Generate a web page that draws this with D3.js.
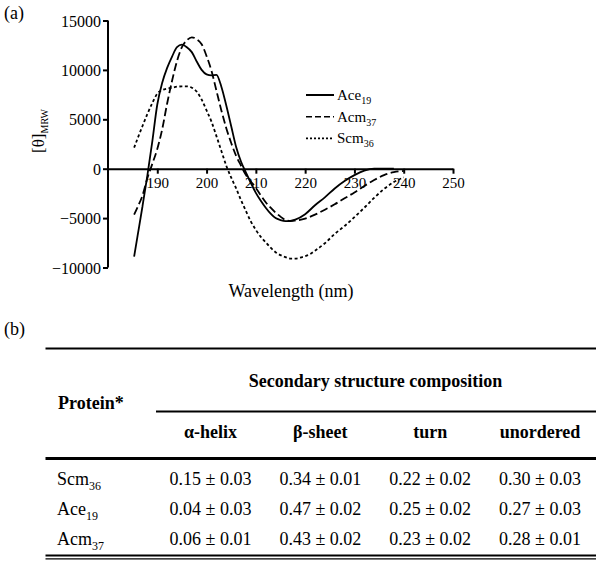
<!DOCTYPE html>
<html>
<head>
<meta charset="utf-8">
<script src="https://cdn.jsdelivr.net/npm/d3@7"></script>
<style>
body { margin: 0; background: #fff; }
svg text { font-family: "Liberation Serif", Tinos, "Times New Roman", Times, "DejaVu Serif", serif !important; fill: #000; }
</style>
</head>
<body>
<script>
var width = 600, height = 563;

// CD spectra, wavelength (nm) and mean residue ellipticity
var waveAce = [185.3, 186, 187, 188, 189, 190, 191, 192, 193, 194, 195, 196, 197, 198, 199, 200, 201, 202, 203, 204, 205, 206, 207, 208, 209, 210, 211, 212, 213, 214, 215, 216, 217, 218, 220, 222, 224, 226, 228, 230, 232, 234, 236, 238];
var ace19 = [-8900, -6800, -3800, -650, 2800, 6500, 8700, 10200, 11350, 12300, 12550, 12300, 11800, 10850, 10000, 9550, 9450, 9500, 8300, 6400, 4300, 2200, 700, -400, -1450, -2450, -3250, -3950, -4550, -5000, -5200, -5300, -5280, -5150, -4600, -3700, -2900, -2000, -1250, -650, -200, 0, 0, 0];

var waveAcm = [185.3, 186, 187, 188, 189, 190, 191, 192, 193, 194, 195, 196, 197, 198, 199, 200, 201, 202, 203, 204, 205, 206, 207, 208, 209, 210, 211, 212, 213, 214, 215, 216, 217, 218, 220, 222, 224, 226, 228, 230, 232, 234, 236, 238, 240];
var acm37 = [-4650, -3900, -2700, -950, 500, 2000, 4000, 6600, 8900, 10900, 12300, 13000, 13300, 13100, 12600, 11400, 9900, 7900, 5900, 4100, 2600, 1300, 300, -650, -1300, -1950, -2700, -3400, -3950, -4450, -4850, -5200, -5300, -5250, -5050, -4650, -4150, -3600, -3000, -2400, -1750, -1150, -650, -350, -220];

var waveScm = [185.3, 186, 187, 188, 189, 190, 191, 192, 193, 194, 195, 196, 197, 198, 199, 200, 201, 202, 203, 204, 205, 206, 207, 208, 209, 210, 211, 212, 213, 214, 215, 216, 217, 218, 219, 220, 221, 222, 224, 226, 228, 230, 232, 234, 236, 238, 240];
var scm36 = [2130, 3050, 4320, 5550, 6650, 7600, 7950, 8100, 8200, 8300, 8330, 8330, 8200, 7800, 7000, 5900, 4750, 3300, 1800, 300, -900, -2000, -3200, -4300, -5350, -6200, -6900, -7450, -8000, -8450, -8750, -8950, -9100, -9100, -9000, -8850, -8650, -8300, -7550, -6600, -5800, -4900, -3950, -2950, -2050, -1350, -880];

var xTicks = [190, 200, 210, 220, 230, 240, 250];
var yTicks = [-10000, -5000, 0, 5000, 10000, 15000];

// table (b)
var proteins = ["Scm", "Ace", "Acm"];
var proteinSubs = ["36", "19", "37"];
var structCols = ["\u03b1-helix", "\u03b2-sheet", "turn", "unordered"];
var alphaHelix = [[0.15, 0.03], [0.04, 0.03], [0.06, 0.01]];
var betaSheet = [[0.34, 0.01], [0.47, 0.02], [0.43, 0.02]];
var turn = [[0.22, 0.02], [0.25, 0.02], [0.23, 0.02]];
var unordered = [[0.30, 0.03], [0.27, 0.03], [0.28, 0.01]];

var svg = d3.select("body").append("svg")
  .attr("width", width)
  .attr("height", height);

var x = d3.scaleLinear().domain([180, 250]).range([108, 453]);
var y = d3.scaleLinear().domain([-10000, 15000]).range([267.5, 20.5]);

svg.append("text").attr("x", 4).attr("y", 19).style("font-size", "18px").text("(a)");

// y axis
var yAxis = svg.append("g")
  .attr("transform", "translate(" + x(180) + ",0)")
  .call(d3.axisLeft(y).tickValues(yTicks).tickSize(5).tickPadding(2).tickFormat(d3.format("d")));
// x axis through zero
var xAxis = svg.append("g")
  .attr("transform", "translate(0," + y(0) + ")")
  .call(d3.axisBottom(x).tickValues(xTicks).tickSize(5).tickPadding(4).tickSizeOuter(0).tickFormat(d3.format("d")));

[yAxis, xAxis].forEach(function(g) {
  g.attr("font-family", null);
  g.select(".domain").attr("stroke-width", 2);
  g.selectAll(".tick line").attr("stroke-width", 2);
  g.selectAll("text").attr("fill", "#000");
});
yAxis.select(".domain").attr("d", "M0," + y(-10000) + "V" + y(15000));
yAxis.selectAll("text").style("font-size", "16px").attr("dy", "0.35em");
xAxis.selectAll("text").style("font-size", "15px");

// y label
var yl = svg.append("text")
  .attr("transform", "translate(44,131) rotate(-90)")
  .attr("text-anchor", "middle")
  .style("font-size", "17px");
yl.append("tspan").text("[\u03b8]");
yl.append("tspan").attr("dy", 4).style("font-size", "10px").text("MRW");

svg.append("text")
  .attr("x", 291).attr("y", 297)
  .attr("text-anchor", "middle")
  .style("font-size", "18px")
  .text("Wavelength (nm)");

var line = d3.line()
  .x(function(d) { return x(d[0]); })
  .y(function(d) { return y(d[1]); })
  .curve(d3.curveMonotoneX);

var series = [
  { name: "Ace", sub: "19", wave: waveAce, vals: ace19, dash: null },
  { name: "Acm", sub: "37", wave: waveAcm, vals: acm37, dash: "8,3.5" },
  { name: "Scm", sub: "36", wave: waveScm, vals: scm36, dash: "3,2.5" }
];

series.forEach(function(s) {
  svg.append("path")
    .datum(d3.zip(s.wave, s.vals))
    .attr("fill", "none")
    .attr("stroke", "#000")
    .attr("stroke-width", 1.8)
    .attr("stroke-dasharray", s.dash)
    .attr("d", line);
});

// legend
var legend = svg.append("g");
series.forEach(function(s, i) {
  var ly = 95 + i * 21.7;
  legend.append("line")
    .attr("x1", 306).attr("x2", 334)
    .attr("y1", ly).attr("y2", ly)
    .attr("stroke", "#000")
    .attr("stroke-width", s.dash ? 1.6 : 2)
    .attr("stroke-dasharray", s.dash ? (i == 1 ? "6,3" : "2,2") : null);
  var t = legend.append("text").attr("x", 337).attr("y", ly + 5).style("font-size", "15px");
  t.append("tspan").text(s.name);
  t.append("tspan").attr("dy", 4).style("font-size", "10px").text(s.sub);
});

// ---- table (b) ----
svg.append("text").attr("x", 4).attr("y", 335).style("font-size", "18px").text("(b)");

function rule(x1, x2, yy, w) {
  svg.append("line")
    .attr("x1", x1).attr("x2", x2)
    .attr("y1", yy).attr("y2", yy)
    .attr("stroke", "#000")
    .attr("stroke-width", w);
}
rule(45.5, 596, 348.5, 2);
rule(156, 596, 411.5, 2);
rule(45.5, 596, 458.5, 3);
rule(45.5, 596, 555.5, 2);
rule(45.5, 596, 558.8, 1.2);

svg.append("text")
  .attr("x", 375.5).attr("y", 387)
  .attr("text-anchor", "middle")
  .style("font-size", "18px").style("font-weight", "bold")
  .text("Secondary structure composition");

svg.append("text")
  .attr("x", 58).attr("y", 409)
  .style("font-size", "18px").style("font-weight", "bold")
  .text("Protein*");

var colX = d3.scalePoint().domain(structCols).range([210.5, 540]);
var rowY = d3.scalePoint().domain(proteins).range([485, 544.5]);

svg.selectAll(".colhead").data(structCols).enter().append("text")
  .attr("x", function(d) { return colX(d); })
  .attr("y", 438)
  .attr("text-anchor", "middle")
  .style("font-size", "18px").style("font-weight", "bold")
  .text(function(d) { return d; });

var f = d3.format(".2f");
var colData = [alphaHelix, betaSheet, turn, unordered];

proteins.forEach(function(p, i) {
  var t = svg.append("text").attr("x", 57).attr("y", rowY(p)).style("font-size", "18px");
  t.append("tspan").text(p);
  t.append("tspan").attr("dy", 5).style("font-size", "12px").text(proteinSubs[i]);
  colData.forEach(function(col, j) {
    svg.append("text")
      .attr("x", colX(structCols[j]))
      .attr("y", rowY(p))
      .attr("text-anchor", "middle")
      .style("font-size", "18px")
      .text(f(col[i][0]) + " \u00b1 " + f(col[i][1]));
  });
});
</script>
</body>
</html>
